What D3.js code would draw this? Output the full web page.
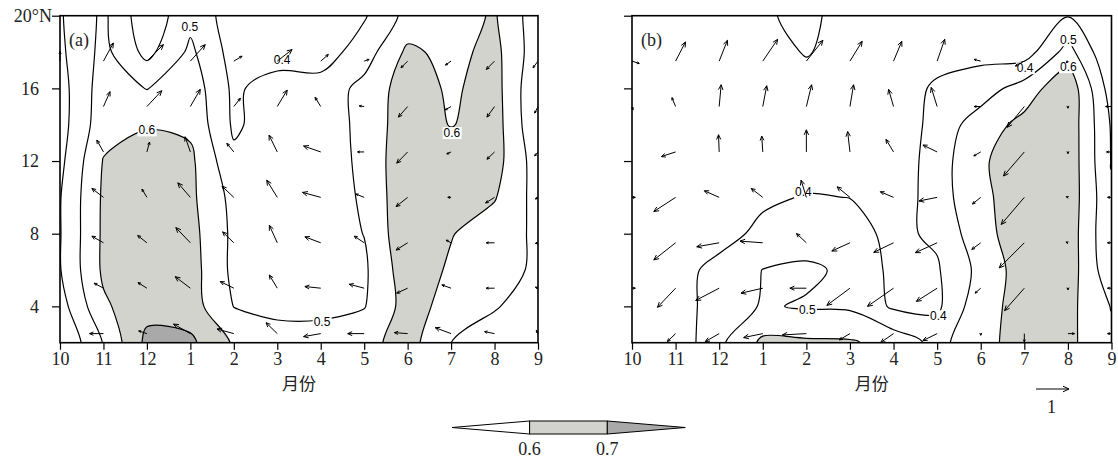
<!DOCTYPE html>
<html>
<head>
<meta charset="utf-8">
<script src="https://cdn.jsdelivr.net/npm/d3@7"></script>
<style>
body { margin: 0; background: #fff; }
</style>
</head>
<body>
<svg id="chart" width="1118" height="459"></svg>
<script>
// x: months (Oct .. Sep), y: latitude rows of the correlation grid (north to south)
var months = ["10", "11", "12", "1", "2", "3", "4", "5", "6", "7", "8", "9"];
var lats = [20, 18, 16, 14, 12, 10, 8, 6, 4, 2];
var levels = [0.4, 0.5, 0.6, 0.7];

// panel (a) correlation
var corrA = [
  [0.39, 0.52, 0.33, 0.47, 0.35, 0.33, 0.34, 0.39, 0.53, 0.56, 0.61, 0.44],
  [0.38, 0.53, 0.37, 0.52, 0.36, 0.34, 0.35, 0.45, 0.62, 0.57, 0.63, 0.44],
  [0.36, 0.55, 0.497, 0.56, 0.38, 0.455, 0.44, 0.53, 0.65, 0.585, 0.64, 0.41],
  [0.36, 0.56, 0.59, 0.58, 0.385, 0.45, 0.44, 0.53, 0.66, 0.595, 0.645, 0.415],
  [0.375, 0.605, 0.66, 0.621, 0.421, 0.45, 0.45, 0.52, 0.68, 0.67, 0.64, 0.45],
  [0.395, 0.615, 0.68, 0.622, 0.469, 0.45, 0.45, 0.512, 0.68, 0.65, 0.607, 0.462],
  [0.395, 0.617, 0.69, 0.634, 0.478, 0.45, 0.45, 0.502, 0.678, 0.605, 0.55, 0.482],
  [0.395, 0.617, 0.69, 0.643, 0.476, 0.45, 0.45, 0.484, 0.66, 0.586, 0.55, 0.479],
  [0.357, 0.584, 0.668, 0.646, 0.498, 0.47, 0.47, 0.495, 0.64, 0.566, 0.508, 0.45],
  [0.30, 0.505, 0.725, 0.72, 0.589, 0.55, 0.55, 0.57, 0.64, 0.50, 0.45, 0.45]
];

// panel (b) correlation
var corrB = [
  [0.33, 0.34, 0.36, 0.38, 0.44, 0.33, 0.33, 0.36, 0.37, 0.37, 0.395, 0.36],
  [0.33, 0.34, 0.35, 0.37, 0.405, 0.37, 0.36, 0.37, 0.37, 0.35, 0.54, 0.30],
  [0.33, 0.34, 0.35, 0.36, 0.37, 0.36, 0.36, 0.412, 0.45, 0.546, 0.675, 0.35],
  [0.33, 0.34, 0.35, 0.36, 0.37, 0.36, 0.32, 0.44, 0.55, 0.63, 0.67, 0.39],
  [0.32, 0.33, 0.35, 0.36, 0.36, 0.35, 0.33, 0.45, 0.59, 0.64, 0.67, 0.395],
  [0.32, 0.33, 0.35, 0.386, 0.405, 0.399, 0.33, 0.455, 0.575, 0.66, 0.666, 0.415],
  [0.31, 0.33, 0.37, 0.42, 0.44, 0.43, 0.38, 0.415, 0.57, 0.65, 0.66, 0.41],
  [0.30, 0.37, 0.425, 0.502, 0.52, 0.478, 0.375, 0.39, 0.53, 0.65, 0.655, 0.43],
  [0.30, 0.37, 0.43, 0.51, 0.49, 0.485, 0.385, 0.38, 0.57, 0.63, 0.63, 0.495],
  [0.30, 0.33, 0.48, 0.62, 0.615, 0.611, 0.564, 0.47, 0.57, 0.64, 0.62, 0.53]
];

// wind vectors, rows at these latitudes
var vecLats = [17.5, 15, 12.5, 10, 7.5, 5, 2.5];

var uA = [
  [0, 0.3, 0.5, 0.45, 0.25, 0.45, 0.23, 0.15, -0.2, -0.17, -0.25, -0.15],
  [0, 0.2, 0.45, 0.3, 0.2, 0.3, -0.17, -0.15, -0.28, -0.18, -0.23, -0.1],
  [0, -0.2, 0.08, -0.16, -0.21, -0.25, -0.52, -0.2, -0.33, -0.13, -0.23, -0.1],
  [0, -0.35, -0.15, -0.38, -0.36, -0.32, -0.55, -0.25, -0.35, -0.1, -0.27, -0.08],
  [0, -0.35, -0.28, -0.44, -0.34, -0.24, -0.48, -0.3, -0.35, -0.15, -0.25, -0.08],
  [0, -0.28, -0.27, -0.46, -0.41, -0.24, -0.48, -0.45, -0.33, -0.28, -0.25, -0.08],
  [0, -0.42, -0.25, -0.51, -0.51, -0.34, -0.52, -0.5, -0.4, -0.48, -0.3, -0.05]
];
var vA = [
  [0.3, 0.55, 0.5, 0.5, 0.15, 0.35, 0.2, 0.05, -0.2, -0.12, -0.25, -0.2],
  [0, 0.45, 0.48, 0.52, 0.25, 0.5, 0.28, 0.02, -0.32, -0.1, -0.32, -0.2],
  [0, 0.36, 0.3, 0.46, 0.26, 0.51, 0.18, 0, -0.34, -0.06, -0.22, -0.12],
  [0, 0.27, 0.25, 0.44, 0.34, 0.52, 0.15, 0.1, -0.28, 0, -0.17, -0.05],
  [0, 0.2, 0.22, 0.46, 0.33, 0.53, 0.18, 0.2, -0.22, 0.08, 0, -0.02],
  [0, 0.15, 0.17, 0.35, 0.2, 0.4, 0.05, 0.12, -0.15, 0.1, 0, 0.03],
  [0, 0, 0.08, 0.29, 0.14, 0.33, -0.09, 0, 0.03, 0.18, 0.06, 0.1]
];

var uB = [
  [0.22, 0.3, 0.25, 0.45, 0.5, 0.37, 0.25, 0.23, -0.2, -0.27, -0.05, 0],
  [0.03, -0.11, 0.06, 0.12, 0.16, 0.11, -0.15, -0.18, -0.2, -0.52, 0, -0.18],
  [0, -0.43, -0.02, -0.03, 0, -0.07, -0.23, -0.43, -0.21, -0.63, 0, -0.15],
  [0.1, -0.66, -0.45, -0.35, -0.16, -0.39, -0.4, -0.55, -0.25, -0.7, -0.05, -0.12],
  [0, -0.66, -0.68, -0.69, -0.3, -0.55, -0.6, -0.66, -0.27, -0.76, -0.06, -0.12],
  [0.1, -0.55, -0.71, -0.66, -0.5, -0.7, -0.79, -0.63, -0.17, -0.6, 0, -0.12],
  [0, -0.25, -0.42, -0.58, -0.73, -0.32, -0.39, -0.43, 0, 0, 0.2, -0.12]
];
var vB = [
  [-0.07, 0.58, 0.63, 0.66, 0.63, 0.6, 0.6, 0.66, 0.05, -0.15, -0.05, 0],
  [-0.1, 0.27, 0.66, 0.63, 0.66, 0.66, 0.52, 0.58, 0, -0.63, -0.05, 0],
  [0, -0.14, 0.52, 0.48, 0.67, 0.62, 0.38, 0.21, -0.12, -0.73, -0.05, 0],
  [0, -0.43, 0.2, 0.27, 0.52, 0.32, 0.17, -0.11, -0.2, -0.82, 0.02, 0],
  [0, -0.52, -0.12, 0.05, 0.28, -0.25, -0.29, -0.3, -0.2, -0.76, 0.02, 0],
  [0, -0.58, -0.37, -0.15, 0, -0.52, -0.55, -0.4, -0.15, -0.68, -0.05, 0],
  [0, -0.24, -0.24, -0.12, -0.04, -0.19, -0.27, -0.21, -0.05, -0.25, 0, 0]
];

// contour labels: text, month index, latitude
var labelsA = [
  { t: "0.5", m: 2.99, lat: 19.4 },
  { t: "0.4", m: 5.11, lat: 17.6 },
  { t: "0.6", m: 2.0, lat: 13.7 },
  { t: "0.6", m: 9.02, lat: 13.55 },
  { t: "0.5", m: 6.03, lat: 3.15 }
];
var labelsB = [
  { t: "0.5", m: 10.01, lat: 18.66 },
  { t: "0.4", m: 9.02, lat: 17.12 },
  { t: "0.6", m: 10.01, lat: 17.18 },
  { t: "0.4", m: 3.93, lat: 10.3 },
  { t: "0.5", m: 4.02, lat: 3.8 },
  { t: "0.4", m: 7.03, lat: 3.47 }
];

var svg = d3.select("#chart");
var yTop = 15.7, yBot = 342.7;
var unitPx = 33;   // length of a unit vector
var serif = "'Liberation Serif', 'Times New Roman', serif";

function drawPanel(opt) {
  var x = d3.scaleLinear().domain([0, months.length - 1]).range([opt.x0, opt.x1]);
  var y = d3.scaleLinear().domain([2, 20]).range([yBot, yTop]);
  var g = svg.append("g");

  var defs = svg.append("defs");
  defs.append("clipPath").attr("id", "clip" + opt.id).append("rect")
    .attr("x", opt.x0).attr("y", yTop)
    .attr("width", opt.x1 - opt.x0).attr("height", yBot - yTop);
  defs.append("clipPath").attr("id", "clipv" + opt.id).append("rect")
    .attr("x", opt.x0 - 1.5).attr("y", yTop - 1.5)
    .attr("width", opt.x1 - opt.x0 + 3).attr("height", yBot - yTop + 3);

  // grid padded by one copy of the edge so lines run out past the frame
  var nx = months.length, ny = lats.length;
  var flat = [];
  for (var j = -1; j <= ny; j++) {
    for (var i = -1; i <= nx; i++) {
      var jj = Math.max(0, Math.min(ny - 1, j));
      var ii = Math.max(0, Math.min(nx - 1, i));
      flat.push(opt.corr[jj][ii]);
    }
  }
  var contours = d3.contours().size([nx + 2, ny + 2]).thresholds(levels)(flat);
  var step = lats[0] - lats[1];
  function pt(p) {
    return [x(p[0] - 1.5), y(lats[0] - step * (p[1] - 1.5))];
  }
  var line = d3.line().curve(d3.curveCatmullRomClosed.alpha(0.5));
  function pathOf(c) {
    return c.coordinates.map(function(poly) {
      return poly.map(function(ring) {
        return line(ring.slice(0, -1).map(pt));
      }).join("");
    }).join("");
  }

  var cg = g.append("g").attr("clip-path", "url(#clip" + opt.id + ")");
  contours.forEach(function(c) {
    if (c.value === 0.6 || c.value === 0.7) {
      cg.append("path").attr("d", pathOf(c))
        .attr("fill", c.value === 0.6 ? "#d3d3ce" : "#a9a9a9")
        .attr("fill-rule", "evenodd");
    }
  });
  contours.forEach(function(c) {
    cg.append("path").attr("d", pathOf(c))
      .attr("fill", "none").attr("stroke", "#000").attr("stroke-width", 1.2);
  });

  // contour labels
  opt.labels.forEach(function(l) {
    var lg = cg.append("g");
    var t = lg.append("text")
      .attr("x", x(l.m)).attr("y", y(l.lat)).attr("dy", "0.35em")
      .attr("text-anchor", "middle")
      .attr("font-family", "'Liberation Sans', Arial, sans-serif")
      .attr("font-size", 12).attr("fill", "#000")
      .text(l.t);
    var bb = t.node().getBBox();
    lg.insert("rect", "text")
      .attr("x", bb.x - 1).attr("y", bb.y + 1)
      .attr("width", bb.width + 2).attr("height", bb.height - 2)
      .attr("fill", "#fff");
  });

  // vectors, tail at the grid point
  var vg = g.append("g").attr("clip-path", "url(#clipv" + opt.id + ")")
    .attr("stroke", "#000").attr("stroke-width", 1).attr("fill", "none");
  vecLats.forEach(function(la, r) {
    months.forEach(function(mo, i) {
      var dx = opt.u[r][i] * unitPx, dy = -opt.v[r][i] * unitPx;
      var len = Math.sqrt(dx * dx + dy * dy);
      if (len < 1) return;
      var x1 = x(i), y1 = y(la), x2 = x1 + dx, y2 = y1 + dy;
      var a = Math.atan2(dy, dx), h = Math.max(2.5, Math.min(5.5, len * 0.3)), s = 0.42;
      vg.append("path").attr("d",
        "M" + x1 + "," + y1 + "L" + x2 + "," + y2 +
        "M" + (x2 - h * Math.cos(a - s)) + "," + (y2 - h * Math.sin(a - s)) +
        "L" + x2 + "," + y2 +
        "L" + (x2 - h * Math.cos(a + s)) + "," + (y2 - h * Math.sin(a + s)));
    });
  });

  // axes
  var ax = g.append("g").attr("transform", "translate(0," + yBot + ")")
    .call(d3.axisBottom(x).tickValues(d3.range(months.length))
      .tickFormat(function(i) { return months[i]; })
      .tickSize(7).tickSizeOuter(0).tickPadding(3));
  ax.select(".domain").remove();
  ax.attr("font-family", serif).attr("font-size", 18);
  ax.selectAll("text").attr("fill", "#222");
  ax.selectAll("line").attr("stroke-width", 1.2);

  var ay = g.append("g").attr("transform", "translate(" + opt.x0 + ",0)")
    .call(d3.axisLeft(y).tickValues([4, 8, 12, 16, 20])
      .tickFormat(function(d) { return opt.yLabels ? (d === 20 ? "20°N" : d) : ""; })
      .tickSize(8).tickSizeOuter(0).tickPadding(13));
  ay.select(".domain").remove();
  ay.attr("font-family", serif).attr("font-size", 18);
  ay.selectAll("text").attr("fill", "#222")
    .attr("x", function(d) { return d === 20 ? -8 : -21; });
  ay.selectAll("line").attr("stroke-width", 1.2);

  g.append("rect")
    .attr("x", opt.x0).attr("y", yTop)
    .attr("width", opt.x1 - opt.x0).attr("height", yBot - yTop)
    .attr("fill", "none").attr("stroke", "#000").attr("stroke-width", 1.6);

  g.append("text").attr("x", opt.x0 + 9).attr("y", 46)
    .attr("font-family", serif).attr("font-size", 18).attr("fill", "#222")
    .text(opt.letter);

  g.append("text").attr("x", (opt.x0 + opt.x1) / 2).attr("y", 390)
    .attr("text-anchor", "middle")
    .attr("font-family", "'Noto Sans CJK SC', sans-serif").attr("font-size", 17)
    .attr("fill", "#222")
    .text("月份");
}

drawPanel({ id: "a", x0: 60, x1: 538, corr: corrA, u: uA, v: vA, labels: labelsA, letter: "(a)", yLabels: true });
drawPanel({ id: "b", x0: 632, x1: 1111.5, corr: corrB, u: uB, v: vB, labels: labelsB, letter: "(b)", yLabels: false });

// reference vector
var rx = 1036, ry = 389;
svg.append("path")
  .attr("d", "M" + rx + "," + ry + "H" + (rx + unitPx) +
    "M" + (rx + unitPx - 6) + "," + (ry - 2.8) + "L" + (rx + unitPx) + "," + ry + "L" + (rx + unitPx - 6) + "," + (ry + 2.8))
  .attr("stroke", "#000").attr("stroke-width", 1).attr("fill", "none");
svg.append("text").attr("x", rx + unitPx / 2 - 1).attr("y", 413).attr("text-anchor", "middle")
  .attr("font-family", serif).attr("font-size", 18).attr("fill", "#222").text("1");

// shading legend
var lb = { x0: 452, x1: 529.6, x2: 607.3, x3: 685.3, yT: 421, yB: 434 };
var leg = svg.append("g").attr("stroke", "#000").attr("stroke-width", 1);
leg.append("path").attr("d", "M" + lb.x0 + "," + (lb.yT + lb.yB) / 2 + "L" + lb.x1 + "," + lb.yT + "V" + lb.yB + "Z").attr("fill", "#fff");
leg.append("rect").attr("x", lb.x1).attr("y", lb.yT).attr("width", lb.x2 - lb.x1).attr("height", lb.yB - lb.yT).attr("fill", "#d3d3ce");
leg.append("path").attr("d", "M" + lb.x2 + "," + lb.yT + "L" + lb.x3 + "," + (lb.yT + lb.yB) / 2 + "L" + lb.x2 + "," + lb.yB + "Z").attr("fill", "#a9a9a9");
[[lb.x1, "0.6"], [lb.x2, "0.7"]].forEach(function(d) {
  svg.append("text").attr("x", d[0]).attr("y", 455).attr("text-anchor", "middle")
    .attr("font-family", serif).attr("font-size", 18).attr("fill", "#222").text(d[1]);
});
</script>
</body>
</html>
